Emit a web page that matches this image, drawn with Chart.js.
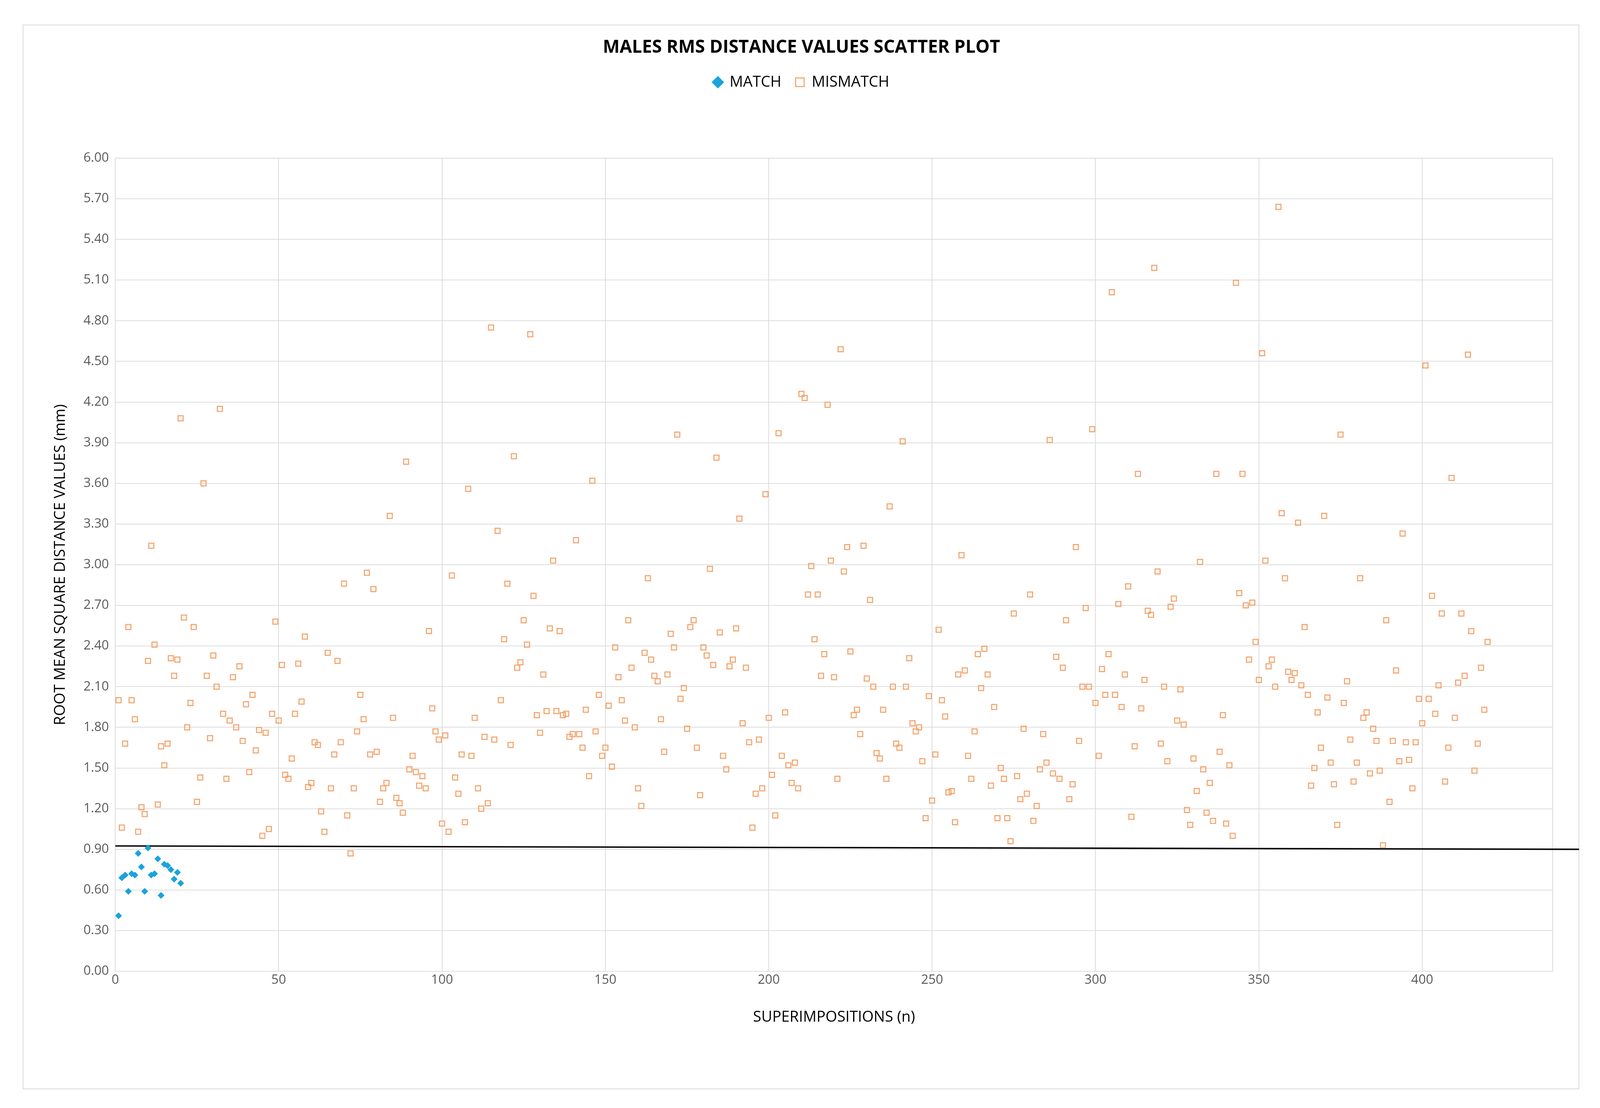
<!DOCTYPE html>
<html>
<head>
<meta charset="utf-8">
<script src="https://cdn.jsdelivr.net/npm/chart.js@4/dist/chart.umd.min.js"></script>
<style>
  html, body { margin: 0; padding: 0; background: #fff; overflow: hidden; }
  #frame { position: absolute; border: 2px solid #d9d9d9; box-sizing: border-box; }
  canvas { position: absolute; left: 0; top: 0; }
</style>
</head>
<body>
<div id="frame"></div>
<canvas id="grafica"></canvas>
<script>
// valores (x = 1, 2, 3 ...)
const valoresMatch = [0.41, 0.69, 0.71, 0.59, 0.72, 0.71, 0.87, 0.77, 0.59, 0.91,
  0.71, 0.72, 0.83, 0.56, 0.79, 0.78, 0.75, 0.68, 0.73, 0.65];

const valoresMismatch = [
  2.00, 1.06, 1.68, 2.54, 2.00, 1.86, 1.03, 1.21, 1.16, 2.29,
  3.14, 2.41, 1.23, 1.66, 1.52, 1.68, 2.31, 2.18, 2.30, 4.08,
  2.61, 1.80, 1.98, 2.54, 1.25, 1.43, 3.60, 2.18, 1.72, 2.33,
  2.10, 4.15, 1.90, 1.42, 1.85, 2.17, 1.80, 2.25, 1.70, 1.97,
  1.47, 2.04, 1.63, 1.78, 1.00, 1.76, 1.05, 1.90, 2.58, 1.85,
  2.26, 1.45, 1.42, 1.57, 1.90, 2.27, 1.99, 2.47, 1.36, 1.39,
  1.69, 1.67, 1.18, 1.03, 2.35, 1.35, 1.60, 2.29, 1.69, 2.86,
  1.15, 0.87, 1.35, 1.77, 2.04, 1.86, 2.94, 1.60, 2.82, 1.62,
  1.25, 1.35, 1.39, 3.36, 1.87, 1.28, 1.24, 1.17, 3.76, 1.49,
  1.59, 1.47, 1.37, 1.44, 1.35, 2.51, 1.94, 1.77, 1.71, 1.09,
  1.74, 1.03, 2.92, 1.43, 1.31, 1.60, 1.10, 3.56, 1.59, 1.87,
  1.35, 1.20, 1.73, 1.24, 4.75, 1.71, 3.25, 2.00, 2.45, 2.86,
  1.67, 3.80, 2.24, 2.28, 2.59, 2.41, 4.70, 2.77, 1.89, 1.76,
  2.19, 1.92, 2.53, 3.03, 1.92, 2.51, 1.89, 1.90, 1.73, 1.75,
  3.18, 1.75, 1.65, 1.93, 1.44, 3.62, 1.77, 2.04, 1.59, 1.65,
  1.96, 1.51, 2.39, 2.17, 2.00, 1.85, 2.59, 2.24, 1.80, 1.35,
  1.22, 2.35, 2.90, 2.30, 2.18, 2.14, 1.86, 1.62, 2.19, 2.49,
  2.39, 3.96, 2.01, 2.09, 1.79, 2.54, 2.59, 1.65, 1.30, 2.39,
  2.33, 2.97, 2.26, 3.79, 2.50, 1.59, 1.49, 2.25, 2.30, 2.53,
  3.34, 1.83, 2.24, 1.69, 1.06, 1.31, 1.71, 1.35, 3.52, 1.87,
  1.45, 1.15, 3.97, 1.59, 1.91, 1.52, 1.39, 1.54, 1.35, 4.26,
  4.23, 2.78, 2.99, 2.45, 2.78, 2.18, 2.34, 4.18, 3.03, 2.17,
  1.42, 4.59, 2.95, 3.13, 2.36, 1.89, 1.93, 1.75, 3.14, 2.16,
  2.74, 2.10, 1.61, 1.57, 1.93, 1.42, 3.43, 2.10, 1.68, 1.65,
  3.91, 2.10, 2.31, 1.83, 1.77, 1.80, 1.55, 1.13, 2.03, 1.26,
  1.60, 2.52, 2.00, 1.88, 1.32, 1.33, 1.10, 2.19, 3.07, 2.22,
  1.59, 1.42, 1.77, 2.34, 2.09, 2.38, 2.19, 1.37, 1.95, 1.13,
  1.50, 1.42, 1.13, 0.96, 2.64, 1.44, 1.27, 1.79, 1.31, 2.78,
  1.11, 1.22, 1.49, 1.75, 1.54, 3.92, 1.46, 2.32, 1.42, 2.24,
  2.59, 1.27, 1.38, 3.13, 1.70, 2.10, 2.68, 2.10, 4.00, 1.98,
  1.59, 2.23, 2.04, 2.34, 5.01, 2.04, 2.71, 1.95, 2.19, 2.84,
  1.14, 1.66, 3.67, 1.94, 2.15, 2.66, 2.63, 5.19, 2.95, 1.68,
  2.10, 1.55, 2.69, 2.75, 1.85, 2.08, 1.82, 1.19, 1.08, 1.57,
  1.33, 3.02, 1.49, 1.17, 1.39, 1.11, 3.67, 1.62, 1.89, 1.09,
  1.52, 1.00, 5.08, 2.79, 3.67, 2.70, 2.30, 2.72, 2.43, 2.15,
  4.56, 3.03, 2.25, 2.30, 2.10, 5.64, 3.38, 2.90, 2.21, 2.15,
  2.20, 3.31, 2.11, 2.54, 2.04, 1.37, 1.50, 1.91, 1.65, 3.36,
  2.02, 1.54, 1.38, 1.08, 3.96, 1.98, 2.14, 1.71, 1.40, 1.54,
  2.90, 1.87, 1.91, 1.46, 1.79, 1.70, 1.48, 0.93, 2.59, 1.25,
  1.70, 2.22, 1.55, 3.23, 1.69, 1.56, 1.35, 1.69, 2.01, 1.83,
  4.47, 2.01, 2.77, 1.90, 2.11, 2.64, 1.40, 1.65, 3.64, 1.87,
  2.13, 2.64, 2.18, 4.55, 2.51, 1.48, 1.68, 2.24, 1.93, 2.43
];

const lineaUmbral = [{x: 0, y: 0.925}, {x: 448, y: 0.90}];
const ticksY = [0, 0.3, 0.6, 0.9, 1.2, 1.5, 1.8, 2.1, 2.4, 2.7, 3.0, 3.3, 3.6, 3.9, 4.2, 4.5, 4.8, 5.1, 5.4, 5.7, 6.0];

const puntosMatch = valoresMatch.map((v, i) => ({x: i + 1, y: v}));
const puntosMismatch = valoresMismatch.map((v, i) => ({x: i + 1, y: v}));

// escala segun el tamaño real de la ventana (diseño hecho para 4482x2837)
const W = window.innerWidth, H = window.innerHeight;
const k = W / 4482;
const kh = H / 2837;

const marco = document.getElementById("frame");
marco.style.left = (63 * k) + "px";
marco.style.top = (63 * kh) + "px";
marco.style.width = (4361 * k) + "px";
marco.style.height = (2726 * kh) + "px";

const lienzo = document.getElementById("grafica");
lienzo.style.width = W + "px";
lienzo.style.height = H + "px";
lienzo.width = W;
lienzo.height = H;

const espacioLeyenda = {
  id: 'espacioLeyenda',
  beforeInit(chart) {
    const fitOrig = chart.legend.fit;
    chart.legend.fit = function() {
      fitOrig.bind(chart.legend)();
      this.height += 165 * kh;
    };
  }
};

new Chart(lienzo.getContext("2d"), {
  type: 'scatter',
  plugins: [espacioLeyenda],
  data: {
    datasets: [
      {
        label: 'MATCH',
        data: puntosMatch,
        pointStyle: 'rectRot',
        pointRadius: 9 * k,
        backgroundColor: '#1aa3dc',
        borderColor: '#1aa3dc',
        borderWidth: 1
      },
      {
        label: 'MISMATCH',
        data: puntosMismatch,
        pointStyle: 'rect',
        pointRadius: 10 * k,
        backgroundColor: 'rgba(255,255,255,0)',
        borderColor: '#f4a36c',
        borderWidth: 3 * k
      },
      {
        label: 'umbral',
        type: 'line',
        data: lineaUmbral,
        borderColor: '#000',
        borderWidth: 4 * k,
        pointRadius: 0,
        clip: false
      }
    ]
  },
  options: {
    responsive: false,
    animation: false,
    layout: { padding: { left: 140 * k, right: 132 * k, top: 95 * kh, bottom: 205 * kh } },
    scales: {
      x: {
        type: 'linear',
        min: 0,
        max: 440,
        afterFit: s => { s.height = 145 * kh; },
        ticks: {
          stepSize: 50,
          color: '#595959',
          font: { size: 36 * k, family: 'Open Sans' },
          callback: v => (v % 50 === 0 ? v : '')
        },
        grid: { color: '#d9d9d9', lineWidth: 2 * k, drawTicks: false },
        border: { display: false },
        title: {
          display: true,
          text: 'SUPERIMPOSITIONS (n)',
          color: '#000',
          font: { size: 42 * k, family: 'Open Sans' },
          padding: { top: 20 * kh }
        }
      },
      y: {
        min: 0,
        max: 6,
        afterFit: s => { s.width = 183 * k; },
        afterBuildTicks: s => { s.ticks = ticksY.map(v => ({value: v})); },
        ticks: {
          color: '#595959',
          font: { size: 36 * k, family: 'Open Sans' },
          padding: 18 * k,
          callback: v => Number(v).toFixed(2)
        },
        grid: { color: '#d9d9d9', lineWidth: 2 * k, drawTicks: false },
        border: { display: false },
        title: {
          display: true,
          text: 'ROOT MEAN SQUARE DISTANCE VALUES (mm)',
          color: '#000',
          font: { size: 42 * k, family: 'Open Sans' }
        }
      }
    },
    plugins: {
      title: {
        display: true,
        text: 'MALES RMS DISTANCE VALUES SCATTER PLOT',
        color: '#000',
        font: { size: 50 * k, weight: 'bold', family: 'Open Sans' },
        padding: { top: 0, bottom: 5 * kh }
      },
      legend: {
        display: true,
        position: 'top',
        labels: {
          usePointStyle: true,
          boxWidth: 24 * k,
          boxHeight: 24 * k,
          color: '#000',
          font: { size: 42 * k, family: 'Open Sans' },
          padding: 40 * k,
          filter: item => item.text !== 'umbral'
        }
      },
      tooltip: { enabled: false }
    }
  }
});
</script>
</body>
</html>
